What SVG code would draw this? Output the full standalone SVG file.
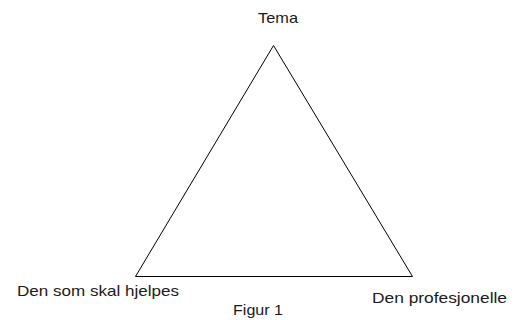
<svg xmlns="http://www.w3.org/2000/svg" width="524" height="320" viewBox="0 0 524 320">
<style>
.lbl{font-family:"Liberation Sans","Open Sans",Arial,sans-serif;font-size:15px;fill:#1a1a1a}
.edge{stroke:#000;stroke-width:1;fill:none}
</style>
<rect width="524" height="320" fill="#fff"/>
<g id="connectors">
<path class="edge" d="M273.5,45.5 L135.5,276.5"/>
<path class="edge" d="M273.5,45.5 L412.5,276.5"/>
<path class="edge" d="M135.5,276.5 L412.5,276.5"/>
</g>
<g id="tema"><text class="lbl" x="258" y="23" textLength="40" lengthAdjust="spacingAndGlyphs">Tema</text></g>
<g id="den-som-skal-hjelpes"><text class="lbl" x="17" y="296" textLength="162" lengthAdjust="spacingAndGlyphs">Den som skal hjelpes</text></g>
<g id="den-profesjonelle"><text class="lbl" x="372" y="303" textLength="135" lengthAdjust="spacingAndGlyphs">Den profesjonelle</text></g>
<g id="figur"><text class="lbl" x="233" y="315" textLength="50" lengthAdjust="spacingAndGlyphs">Figur 1</text></g>
</svg>
